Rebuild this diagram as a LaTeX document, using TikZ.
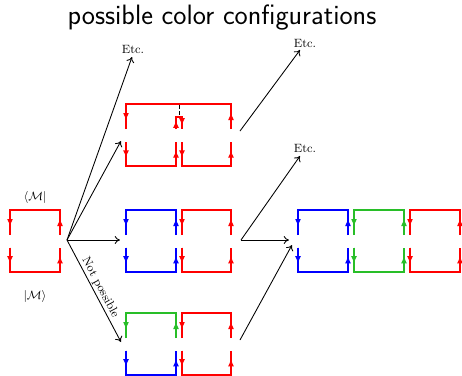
\documentclass[tikz,border=0pt]{standalone}
\usetikzlibrary{arrows.meta,decorations.markings}
\definecolor{cgreen}{RGB}{40,190,40}
\tikzset{
  loopline/.style={line width=0.9pt},
  marr/.style={loopline,decoration={markings,mark=at position 0.6 with {\arrow{Triangle[length=4.5pt,width=4pt]}}},postaction={decorate}},
  conn/.style={line width=0.65pt,-{To[length=4pt,width=6pt]}},
  small/.style={font=\fontsize{9}{11}\selectfont,inner sep=1pt},
}
% top half of a loop box: colour, left x, right x, top y
\newcommand{\tophalfbox}[4]{%
  \draw[loopline,#1] (#2,#4+25) -- (#2,#4) -- (#3,#4) -- (#3,#4+25);
  \draw[marr,#1] (#2,#4) -- (#2,#4+25);
  \draw[marr,#1] (#3,#4+25) -- (#3,#4);
}
\newcommand{\bothalfbox}[4]{%
  \draw[loopline,#1] (#2,#4+37.5) -- (#2,#4+62) -- (#3,#4+62) -- (#3,#4+37.5);
  \draw[marr,#1] (#2,#4+37.5) -- (#2,#4+62);
  \draw[marr,#1] (#3,#4+62) -- (#3,#4+37.5);
}
\newcommand{\fullbox}[4]{\tophalfbox{#1}{#2}{#3}{#4}\bothalfbox{#1}{#2}{#3}{#4}}
\begin{document}
\begin{tikzpicture}[x=0.75pt,y=-0.75pt]
\useasboundingbox (0,0) rectangle (462,376);
% title
\node (title) at (222,18) {\sffamily\fontsize{21}{25}\selectfont possible color configurations};

% left loop
\fullbox{red}{10}{60}{210}
\node[small] (bra) at (35,197) {$\langle\mathcal{M}|$};
\node[small] (ket) at (35,296) {$|\mathcal{M}\rangle$};

% upper configuration
\draw[loopline,red] (126,129) -- (126,104) -- (231,104) -- (231,129);
\draw[loopline,red] (176,129) -- (176,117) -- (182,117) -- (182,129);
\draw[loopline,red] (126,142) -- (126,166) -- (176,166) -- (176,142);
\draw[loopline,red] (182,142) -- (182,166) -- (231,166) -- (231,142);
\draw[marr,red] (126,104) -- (126,129);
\draw[marr,red] (126,142) -- (126,166);
\draw[marr,red] (176,129) -- (176,117);
\draw[marr,red] (176,166) -- (176,142);
\draw[marr,red] (182,117) -- (182,129);
\draw[marr,red] (182,142) -- (182,166);
\draw[marr,red] (231,129) -- (231,104);
\draw[marr,red] (231,166) -- (231,142);
\draw[densely dashed,line width=0.7pt] (179,104.5) -- (179,117);

% middle configuration
\fullbox{blue}{126}{176}{210}
\fullbox{red}{182}{231}{210}

% bottom configuration
\tophalfbox{cgreen}{126}{176}{313}
\tophalfbox{red}{182}{231}{313}
\bothalfbox{blue}{126}{176}{313}
\bothalfbox{red}{182}{231}{313}

% right configuration
\fullbox{blue}{298}{348}{210}
\fullbox{cgreen}{354}{404}{210}
\fullbox{red}{410}{460}{210}

% labels
\node[small] (etc1) at (133,49) {Etc.};
\node[small] (etc2) at (305,43) {Etc.};
\node[small] (etc3) at (305,148) {Etc.};

% connector anchors
\coordinate (o) at (67,240);
\coordinate (t1) at (132,57);
\coordinate (up) at (121,141);
\coordinate (mid) at (120,240);
\coordinate (low) at (121,342);
\coordinate (upR) at (240,131);
\coordinate (t2) at (300,50);
\coordinate (midR) at (241,240);
\coordinate (t3) at (300,156);
\coordinate (lowR) at (240,340);
\coordinate (rin) at (289,240);
\coordinate (rin2) at (292,245);

\draw[conn] (o) -- (t1);
\draw[conn] (o) -- (up);
\draw[conn] (o) -- (mid);
\draw[conn] (o) -- node[small,midway,sloped,above] {Not possible} (low);
\draw[conn] (upR) -- (t2);
\draw[conn] (midR) -- (t3);
\draw[conn] (midR) -- (rin);
\draw[conn] (lowR) -- (rin2);
\end{tikzpicture}
\end{document}
